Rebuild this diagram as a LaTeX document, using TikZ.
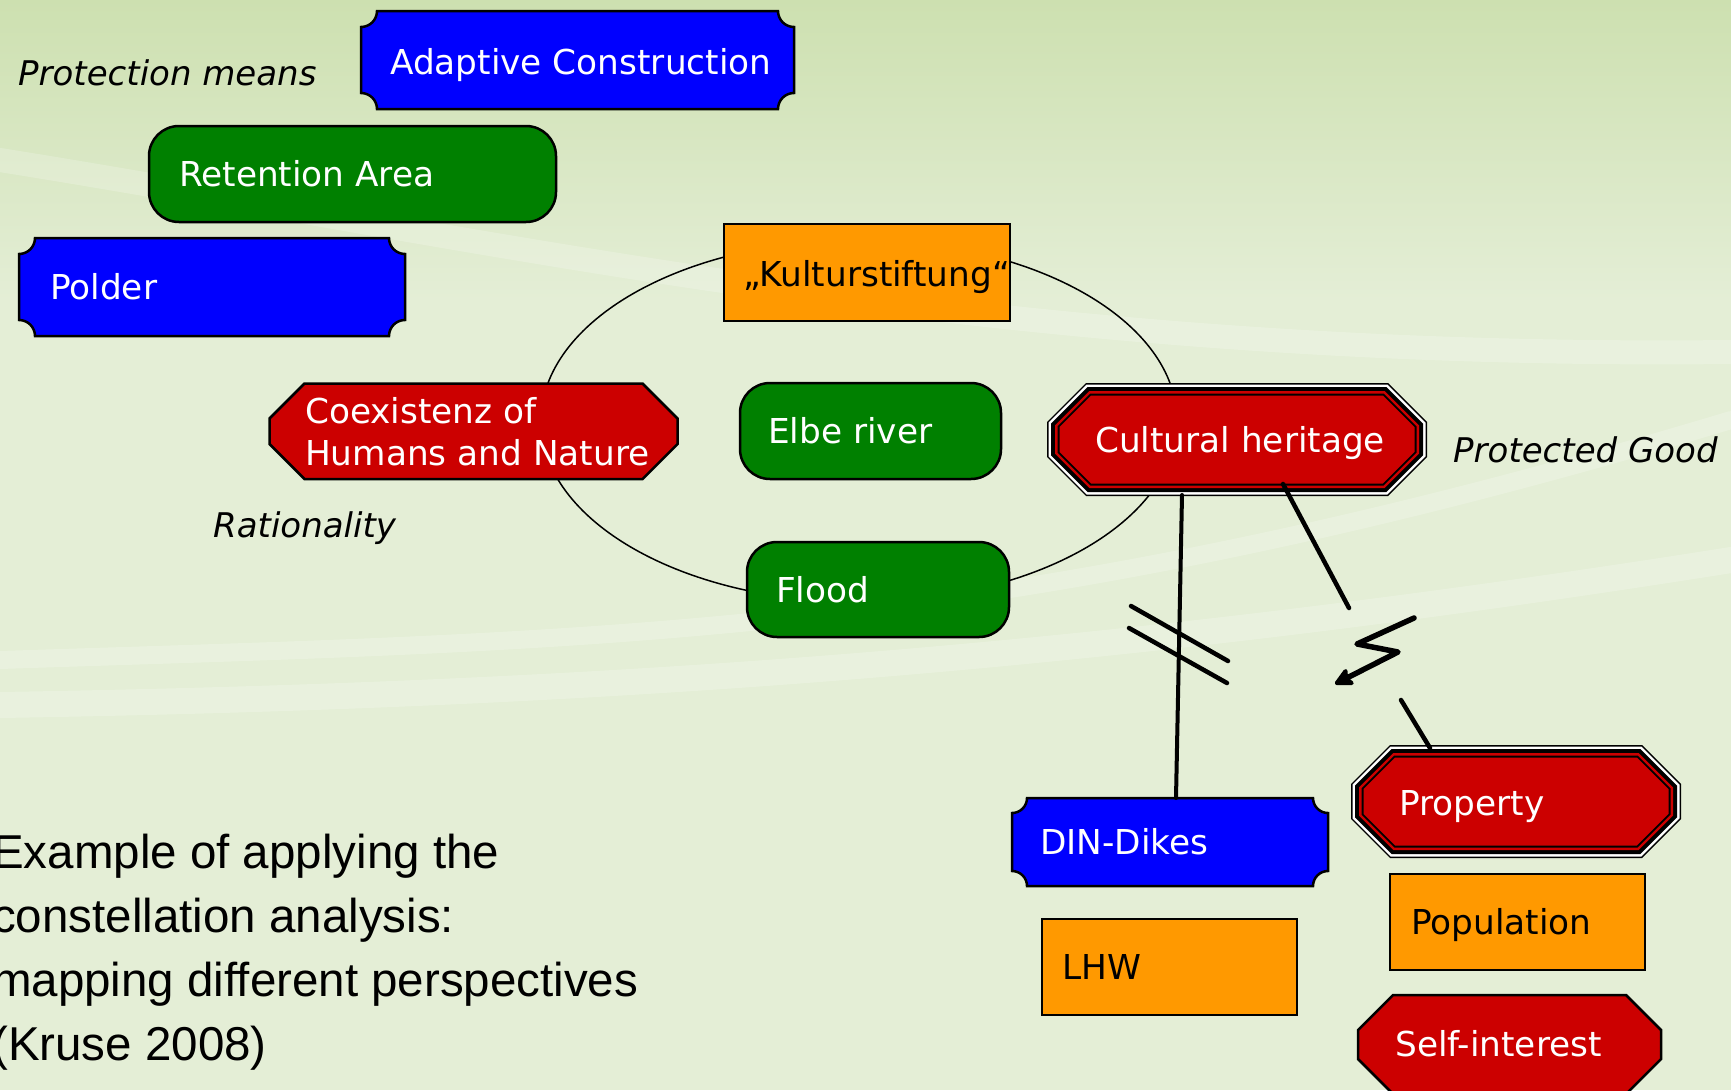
\documentclass[tikz,border=0pt]{standalone}
\usepackage{fontspec}
\newfontfamily\dv{DejaVu Sans}
\newfontfamily\lib{Liberation Sans}
\usetikzlibrary{arrows.meta}
\definecolor{bgtop}{RGB}{205,224,176}
\definecolor{bgmid}{RGB}{228,238,214}
\definecolor{cblue}{RGB}{0,0,255}
\definecolor{cgreen}{RGB}{0,128,0}
\definecolor{corange}{RGB}{255,153,0}
\definecolor{cred}{RGB}{204,0,0}
% octagon path: x1 y1 x2 y2 cut
\newcommand\octpath[5]{({(#1)+(#5)},#2) -- ({(#3)-(#5)},#2) -- (#3,{(#2)+(#5)}) -- (#3,{(#4)-(#5)}) -- ({(#3)-(#5)},#4) -- ({(#1)+(#5)},#4) -- (#1,{(#4)-(#5)}) -- (#1,{(#2)+(#5)}) -- cycle}
% concave-corner box: x1 y1 x2 y2 r
\newcommand\concpath[5]{(#1,{#2+#5}) .. controls ({#1+0.552*#5},{#2+#5}) and ({#1+#5},{#2+0.552*#5}) .. ({#1+#5},#2) -- ({#3-#5},#2) .. controls ({#3-#5},{#2+0.552*#5}) and ({#3-0.552*#5},{#2+#5}) .. (#3,{#2+#5}) -- (#3,{#4-#5}) .. controls ({#3-0.552*#5},{#4-#5}) and ({#3-#5},{#4-0.552*#5}) .. ({#3-#5},#4) -- ({#1+#5},#4) .. controls ({#1+#5},{#4-0.552*#5}) and ({#1+0.552*#5},{#4-#5}) .. (#1,{#4-#5}) -- cycle}
\newcommand\compoundoct[5]{%
 \fill[black] \octpath{#1}{#2}{#3}{#4}{#5};
 \fill[white] \octpath{#1+1.5}{#2+1.5}{#3-1.5}{#4-1.5}{#5-0.9};
 \fill[black] \octpath{#1+4}{#2+4}{#3-4}{#4-4}{#5-2.3};
 \fill[cred] \octpath{#1+8}{#2+8}{#3-8}{#4-8}{#5-4.7};
 \fill[black] \octpath{#1+10.5}{#2+10.5}{#3-10.5}{#4-10.5}{#5-6.2};
 \fill[cred] \octpath{#1+12.5}{#2+12.5}{#3-12.5}{#4-12.5}{#5-7.3};}
\tikzset{
  bluebox/.style={fill=cblue, draw=black, line width=2.5pt},
  greenbox/.style={fill=cgreen, draw=black, line width=2.5pt, rounded corners=30pt},
  orangebox/.style={fill=corange, draw=black, line width=2.5pt},
  redbox/.style={fill=cred, draw=black, line width=2.5pt},
  lbl/.style={anchor=base west, inner sep=0pt, font=\dv\fontsize{34.3}{41}\selectfont},
  wt/.style={lbl, text=white},
  bt/.style={lbl, text=black},
  itl/.style={lbl, text=black, font=\dv\itshape\fontsize{34}{41}\selectfont},
  big/.style={anchor=base west, inner sep=0pt, font=\lib\fontsize{47.5}{56}\selectfont},
  conn/.style={draw=black, line width=4.5pt, line cap=round, line join=round},
  swoosh/.style={draw=white, opacity=0.2, line cap=round}
}
\begin{document}
\begin{tikzpicture}[x=1pt, y=-1pt]
\useasboundingbox (0,0) rectangle (1731,1090);
% background
\shade[top color=bgtop, bottom color=bgmid] (0,0) rectangle (1731,300);
\fill[bgmid] (0,299) rectangle (1731,1090);
\path[swoosh, line width=24pt] (0,160) .. controls (500,240) and (1000,360) .. (1731,352);
\path[swoosh, line width=18pt] (0,660) .. controls (600,640) and (1000,640) .. (1731,420);
\path[swoosh, line width=26pt] (0,705) .. controls (600,695) and (1100,660) .. (1731,560);
% ellipse (constellation)
\draw[line width=1.5pt] (859,421) ellipse [x radius=318pt, y radius=181pt];
% shapes
\path[bluebox] \concpath{361}{11}{794}{109}{16};
\path[greenbox] (149,126) rectangle (556,222);
\path[bluebox] \concpath{19}{238}{405}{336}{16};
\path[orangebox] (724,224) rectangle (1010,321);
\path[redbox] \octpath{269.5}{383.5}{677.5}{479}{35};
\path[greenbox] (740,383) rectangle (1001,479);
\compoundoct{1047}{383}{1427}{496}{39}
\path[greenbox] (747,542) rectangle (1009,637);
\path[bluebox] \concpath{1012}{798}{1328}{886}{15};
\compoundoct{1351}{745}{1681}{858}{39}
\path[orangebox] (1390,874) rectangle (1645,970);
\path[orangebox] (1042,919) rectangle (1297,1015);
\path[redbox] \octpath{1358}{995}{1661}{1094}{35};
% texts
\node[itl] (protmeans) at (18,85) {Protection means};
\node[wt] (adaptive) at (390,74) {Adaptive Construction};
\node[wt] (retention) at (179,186) {Retention Area};
\node[wt] (polder) at (50,299) {Polder};
\node[bt] (kultur) at (743,286) {„Kulturstiftung“};
\node[wt] (coex1) at (305,423) {Coexistenz of};
\node[wt] (coex2) at (305,465) {Humans and Nature};
\node[wt] (elbe) at (768,443) {Elbe river};
\node[wt] (cultural) at (1095,452) {Cultural heritage};
\node[itl] (protgood) at (1453,462) {Protected Good};
\node[itl] (ration) at (213,537) {Rationality};
\node[wt] (flood) at (776,602) {Flood};
\node[wt] (din) at (1040,854) {DIN-Dikes};
\node[wt] (property) at (1399,815) {Property};
\node[bt] (population) at (1411,934) {Population};
\node[bt] (lhw) at (1062,979) {LHW};
\node[wt] (selfint) at (1395,1056) {Self-interest};
\node[big] (cap1) at (-8,868) {Example of applying the};
\node[big] (cap2) at (-8,932) {constellation analysis:};
\node[big] (cap3) at (-8,996) {mapping different perspectives};
\node[big] (cap4) at (-8,1060) {(Kruse 2008)};
% connectors
\coordinate (chA) at (1182,495);
\coordinate (dinTop) at (1176,798);
\coordinate (slA1) at (1131,606); \coordinate (slA2) at (1228,661);
\coordinate (slB1) at (1129,628); \coordinate (slB2) at (1227,683);
\coordinate (chB) at (1283,484);
\coordinate (lgTop) at (1349,608);
\coordinate (lg1) at (1414,618); \coordinate (lg2) at (1357,644);
\coordinate (lg3) at (1398,652); \coordinate (lg4) at (1335,684);
\coordinate (lgBot) at (1401,700);
\coordinate (propTop) at (1430,748);
\draw[conn, line width=4pt] (chA) -- (dinTop);
\draw[conn] (slA1) -- (slA2);
\draw[conn] (slB1) -- (slB2);
\draw[conn] (chB) -- (lgTop);
\draw[conn, line width=5.5pt, -{Stealth[length=22pt, width=22pt, inset=5pt, round]}] (lg1) -- (lg2) -- (lg3) -- (lg4);
\draw[conn] (lgBot) -- (propTop);
\end{tikzpicture}
\end{document}
